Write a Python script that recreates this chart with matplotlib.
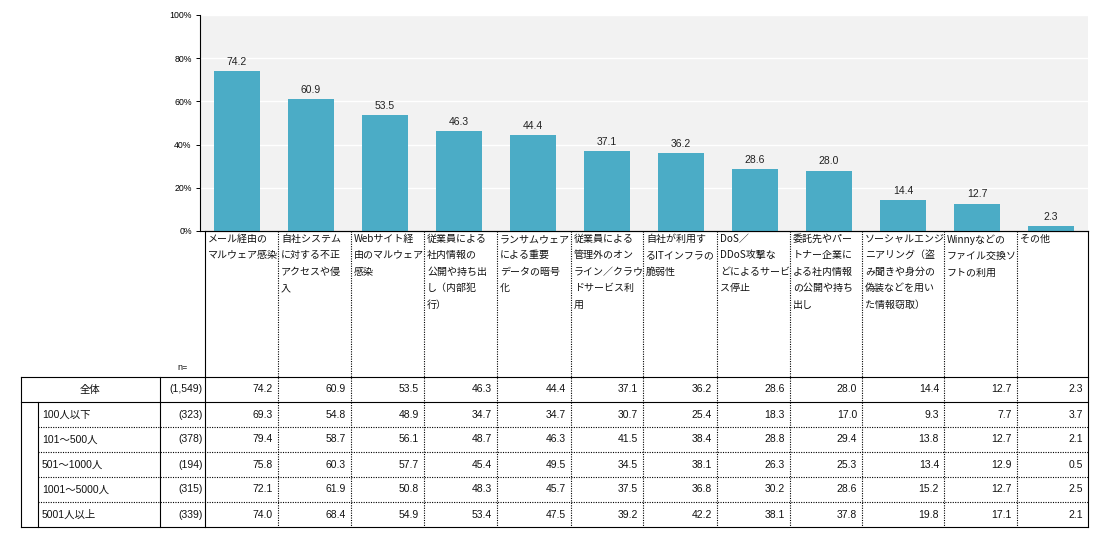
import matplotlib
matplotlib.use("Agg")
import matplotlib.pyplot as plt
import numpy as np

plt.rcParams['font.family'] = ['Liberation Sans', 'Noto Sans CJK JP']

# categories (line breaks as in the source sheet)
categories = [
    "メール経由の\nマルウェア感染",
    "自社システム\nに対する不正\nアクセスや侵\n入",
    "Webサイト経\n由のマルウェア\n感染",
    "従業員による\n社内情報の\n公開や持ち出\nし（内部犯\n行）",
    "ランサムウェア\nによる重要\nデータの暗号\n化",
    "従業員による\n管理外のオン\nライン／クラウ\nドサービス利\n用",
    "自社が利用す\nるITインフラの\n脆弱性",
    "DoS／\nDDoS攻撃な\nどによるサービ\nス停止",
    "委託先やパー\nトナー企業に\nよる社内情報\nの公開や持ち\n出し",
    "ソーシャルエンジ\nニアリング（盗\nみ聞きや身分の\n偽装などを用い\nた情報窃取）",
    "Winnyなどの\nファイル交換ソ\nフトの利用",
    "その他",
]

total_label = "全体"
total_n = "(1,549)"
total_values = [74.2, 60.9, 53.5, 46.3, 44.4, 37.1, 36.2, 28.6, 28.0, 14.4, 12.7, 2.3]

segment_labels = ["100人以下", "101～500人", "501～1000人", "1001～5000人", "5001人以上"]
segment_n = ["(323)", "(378)", "(194)", "(315)", "(339)"]
seg_100 = [69.3, 54.8, 48.9, 34.7, 34.7, 30.7, 25.4, 18.3, 17.0, 9.3, 7.7, 3.7]
seg_500 = [79.4, 58.7, 56.1, 48.7, 46.3, 41.5, 38.4, 28.8, 29.4, 13.8, 12.7, 2.1]
seg_1000 = [75.8, 60.3, 57.7, 45.4, 49.5, 34.5, 38.1, 26.3, 25.3, 13.4, 12.9, 0.5]
seg_5000 = [72.1, 61.9, 50.8, 48.3, 45.7, 37.5, 36.8, 30.2, 28.6, 15.2, 12.7, 2.5]
seg_over = [74.0, 68.4, 54.9, 53.4, 47.5, 39.2, 42.2, 38.1, 37.8, 19.8, 17.1, 2.1]
segment_values = [seg_100, seg_500, seg_1000, seg_5000, seg_over]

W, H = 1120, 538
fig = plt.figure(figsize=(W / 100, H / 100), dpi=100)

# ---- bar chart ----
ax_l, ax_r, ax_t, ax_b = 200, 1088, 15, 231
ax = fig.add_axes([ax_l / W, 1 - ax_b / H, (ax_r - ax_l) / W, (ax_b - ax_t) / H])
ax.set_facecolor('#f2f2f2')
x = np.arange(len(total_values))
bars = ax.bar(x, total_values, width=0.62, color='#4bacc6', zorder=3)
for b, v in zip(bars, total_values):
    ax.annotate(f"{v:.1f}", (b.get_x() + b.get_width() / 2, v), xytext=(0, 3),
                textcoords='offset points', ha='center', va='bottom',
                fontsize=7.5, color='#222222')
ax.set_xlim(-0.5, len(total_values) - 0.5)
ax.set_ylim(0, 100)
ax.set_yticks(np.arange(0, 101, 20))
ax.set_yticklabels([f"{t}%" for t in range(0, 101, 20)], fontsize=6.3)
ax.yaxis.grid(True, color='white', lw=1, zorder=1)
ax.set_xticks([])
ax.tick_params(axis='y', length=3, width=0.7, pad=3)
for s in ['top', 'right']:
    ax.spines[s].set_visible(False)
ax.spines['left'].set_linewidth(0.8)
ax.spines['bottom'].set_linewidth(0.8)

# ---- table (pixel coordinates) ----
ov = fig.add_axes([0, 0, 1, 1])
ov.set_xlim(0, W)
ov.set_ylim(H, 0)
ov.axis('off')

col_edges = [205, 278, 351, 424, 497, 571, 643, 717, 790, 862, 944, 1017, 1088]
lab_top = 231
tab_top = 377
row_h = 25
n_rows = 1 + len(segment_labels)
tab_bot = tab_top + row_h * n_rows
lw = 0.8
dot = (0, (1, 1.2))

def hline(y, x0, x1, dotted=False):
    ov.plot([x0, x1], [y, y], color='black', lw=lw, ls=dot if dotted else '-')

def vline(xx, y0, y1, dotted=False):
    ov.plot([xx, xx], [y0, y1], color='black', lw=lw, ls=dot if dotted else '-')

# category label area
hline(lab_top, 205, 1088)
for i, c in enumerate(categories):
    ov.text(col_edges[i] + 3, lab_top + 3, c, ha='left', va='top', fontsize=7.2,
            family=['Noto Sans CJK JP'], linespacing=1.8, color='#111111')
ov.text(177, 367, "n=", ha='left', va='center', fontsize=6.5, color='#111111')

# table frame
hline(tab_top, 21, 1088)
hline(tab_top + row_h, 21, 1088)
for r in range(2, n_rows):
    hline(tab_top + row_h * r, 38, 1088, dotted=True)
hline(tab_bot, 21, 1088)
vline(21, tab_top, tab_bot)
vline(38, tab_top + row_h, tab_bot)
vline(160, tab_top, tab_bot)
vline(205, lab_top, tab_bot)
for xx in col_edges[1:-1]:
    vline(xx, lab_top, tab_bot, dotted=True)
vline(1088, lab_top, tab_bot)

# table contents
rows = [(total_label, total_n, total_values)] + list(zip(segment_labels, segment_n, segment_values))
for r, (lab, n, vals) in enumerate(rows):
    yc = tab_top + row_h * r + row_h / 2
    if r == 0:
        ov.text(90.5, yc, lab, ha='center', va='center', fontsize=7.5, color='#111111')
    else:
        ov.text(42, yc, lab, ha='left', va='center', fontsize=7.5, color='#111111')
    ov.text(203, yc, n, ha='right', va='center', fontsize=7.5, color='#111111')
    for i, v in enumerate(vals):
        ov.text(col_edges[i + 1] - 5, yc, f"{v:.1f}", ha='right', va='center',
                fontsize=7.5, color='#111111')

fig.savefig('out.png', dpi=100, facecolor='white')
